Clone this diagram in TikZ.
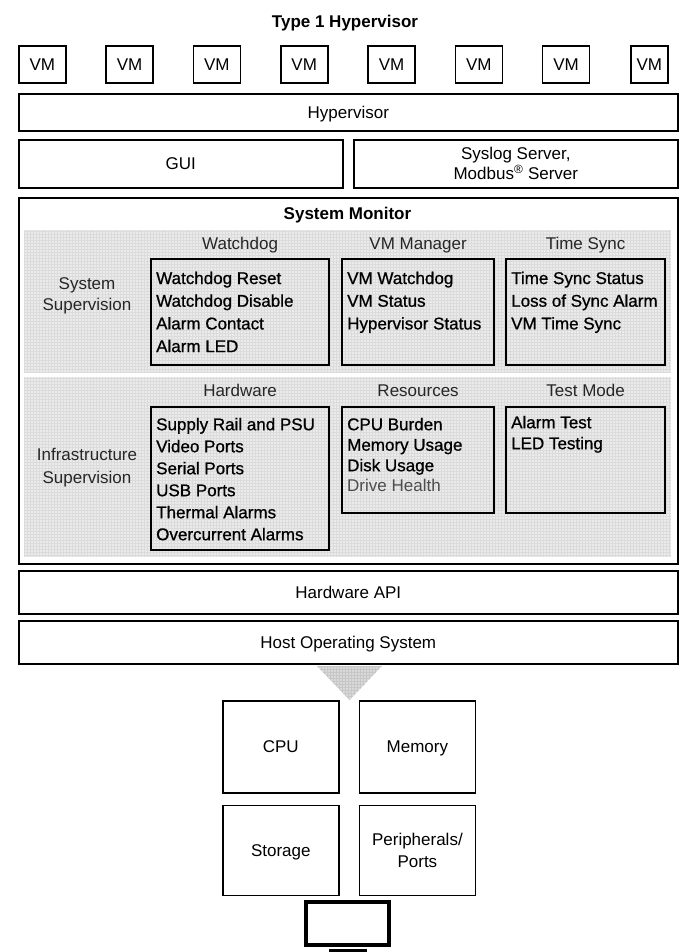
\documentclass[tikz,border=0pt]{standalone}
\usepackage{fontspec}
\setmainfont{Liberation Sans}
\newfontfamily\itemfont[FakeBold=0.8]{Liberation Sans}
\usetikzlibrary{positioning}

\tikzset{
  blk/.style={draw, line width=1.6pt, inner sep=0pt, anchor=north west, text depth=0pt, align=center},
  subbox/.style={draw, line width=2.2pt, inner sep=0pt, anchor=north west},
  hdr/.style={anchor=base, text=black!85},
  heading/.style={anchor=base, font=\fontsize{17}{21}\selectfont\bfseries},
  items/.style={anchor=north west, inner sep=0pt, align=left},
  meshbg/.style={fill=black!8},
  mesh/.style={draw=black!14, line width=0.4pt, step=3pt},
}

\begin{document}
\begin{tikzpicture}[x=1pt, y=-1pt, font=\fontsize{17}{21}\selectfont]
\useasboundingbox (0,0) rectangle (680,952);

% title and virtual machines
\node (title) [heading] at (345,28) {Type 1 Hypervisor};
\foreach \i in {0,...,6}
  \node (vm\i) [blk, minimum width=47pt, minimum height=37pt] at ({18+87.3*\i},45) {VM};
\node (vm7) [blk, minimum width=37pt, minimum height=37pt] at (630,45) {VM};

% software layers
\node (hyp) [blk, minimum width=659pt, minimum height=37pt] at (18,93) {Hypervisor};
\node (gui) [blk, minimum width=324pt, minimum height=48pt] at (18,139) {GUI};
\node (srv) [blk, minimum width=324pt, minimum height=48pt, font=\fontsize{17}{20}\selectfont] at (353,139) {Syslog Server,\\Modbus\textsuperscript{®} Server};

% system monitor
\node (mon) [blk, minimum width=659pt, minimum height=366pt] at (18,197) {};
\node (montitle) [heading] at (347.5,219) {System Monitor};
\fill[meshbg] (24,230) rectangle (671,372);
\draw[mesh] (24,230) grid (671,372);
\fill[meshbg] (24,377) rectangle (671,557);
\draw[mesh] (24,377) grid (671,557);

% system supervision
\node (syssup) [align=center, text=black!85] at (87,296) {System\\Supervision};
\node (wd) [subbox, minimum width=178pt, minimum height=106pt] at (150,258) {};
\node (vmm) [subbox, minimum width=152pt, minimum height=106pt] at (341,258) {};
\node (ts) [subbox, minimum width=159pt, minimum height=106pt] at (505,258) {};
\node (wdh) [hdr] at ([yshift=9pt]wd.north) {Watchdog};
\node (vmmh) [hdr] at ([yshift=9pt]vmm.north) {VM Manager};
\node (tsh) [hdr] at ([yshift=9pt]ts.north) {Time Sync};
\node (wdl) [items, font=\itemfont\fontsize{17}{22.7}\selectfont] at ([xshift=6pt, yshift=-13.5pt]wd.north west)
  {Watchdog Reset\\Watchdog Disable\\Alarm Contact\\Alarm LED};
\node (vmml) [items, font=\itemfont\fontsize{17}{22.7}\selectfont] at ([xshift=6pt, yshift=-13.5pt]vmm.north west)
  {VM Watchdog\\VM Status\\Hypervisor Status};
\node (tsl) [items, font=\itemfont\fontsize{17}{22.7}\selectfont] at ([xshift=6pt, yshift=-13.5pt]ts.north west)
  {Time Sync Status\\Loss of Sync Alarm\\VM Time Sync};

% infrastructure supervision
\node (infsup) [align=center, text=black!85, font=\fontsize{17}{23}\selectfont] at (87,468) {Infrastructure\\Supervision};
\node (hw) [subbox, minimum width=178pt, minimum height=143pt] at (150,406) {};
\node (res) [subbox, minimum width=152pt, minimum height=106pt] at (341,406) {};
\node (tm) [subbox, minimum width=159pt, minimum height=106pt] at (505,406) {};
\node (hwh) [hdr] at ([yshift=10pt]hw.north) {Hardware};
\node (resh) [hdr] at ([yshift=10pt]res.north) {Resources};
\node (tmh) [hdr] at ([yshift=10pt]tm.north) {Test Mode};
\node (hwl) [items, font=\itemfont\fontsize{17}{22}\selectfont] at ([xshift=6pt, yshift=-11.7pt]hw.north west)
  {Supply Rail and PSU\\Video Ports\\Serial Ports\\USB Ports\\Thermal Alarms\\Overcurrent Alarms};
\node (resl) [items, font=\itemfont\fontsize{17}{20.5}\selectfont] at ([xshift=6pt, yshift=-11.7pt]res.north west)
  {CPU Burden\\Memory Usage\\Disk Usage\\{\normalfont\color{black!70}Drive Health}};
\node (tml) [items, font=\itemfont\fontsize{17}{21}\selectfont] at ([xshift=6pt, yshift=-9.7pt]tm.north west)
  {Alarm Test\\LED Testing};

% lower layers
\node (api) [blk, minimum width=659pt, minimum height=43pt] at (18,570) {Hardware API};
\node (hos) [blk, minimum width=659pt, minimum height=43pt] at (18,620) {Host Operating System};

% arrow to the hardware
\begin{scope}
  \clip (317,666) -- (382,666) -- (349.5,700) -- cycle;
  \fill[black!15] (317,666) rectangle (382,700);
  \draw[draw=black!22, line width=0.4pt, step=3pt] (317,666) grid (382,700);
\end{scope}

% hardware
\node (cpu) [blk, minimum width=116pt, minimum height=92pt] at (222,700) {CPU};
\node (mem) [blk, minimum width=116pt, minimum height=92pt, right=19pt of cpu] {Memory};
\node (sto) [blk, minimum width=116pt, minimum height=90pt, below=11pt of cpu] {Storage};
\node (per) [blk, minimum width=116pt, minimum height=90pt, right=19pt of sto, font=\fontsize{17}{22}\selectfont] {Peripherals/\\Ports};
\node (scr) [draw, line width=4pt, inner sep=0pt, anchor=north west, minimum width=83pt, minimum height=43pt] at (304,900) {};
\node (stand) [fill, inner sep=0pt, minimum width=38pt, minimum height=3pt, below=2pt of scr] {};
\end{tikzpicture}
\end{document}
